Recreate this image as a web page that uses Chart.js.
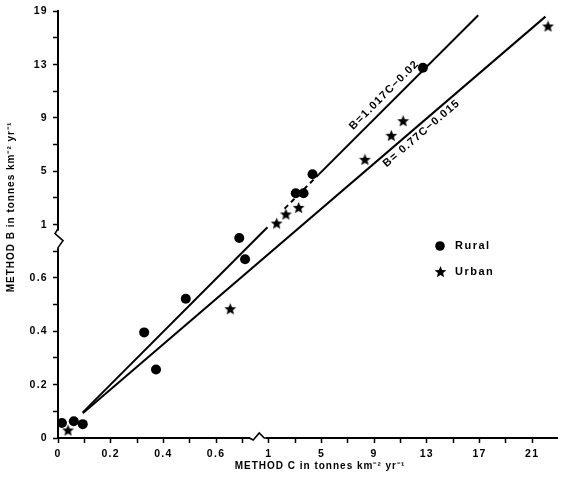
<!DOCTYPE html>
<html>
<head>
<meta charset="utf-8">
<script src="https://cdn.jsdelivr.net/npm/chart.js@4.4.1/dist/chart.umd.min.js"></script>
<style>
  html, body { margin: 0; padding: 0; background: #fff; }
</style>
</head>
<body>
<canvas id="chart" width="562" height="480"></canvas>
<script>
// data (tonnes km-2 yr-1)
const ruralC = [0.015, 0.06, 0.094, 0.327, 0.372, 0.485, 0.688, 0.71, 3.05, 3.64, 4.32, 12.7];
const ruralB = [0.056, 0.063, 0.052, 0.396, 0.257, 0.522, 0.75, 0.67, 3.36, 3.36, 4.78, 12.76];
const urbanC = [0.038, 0.654, 1.6, 2.3, 3.27, 8.3, 10.3, 11.2, 22.2];
const urbanB = [0.03, 0.485, 1.12, 1.8, 2.3, 5.9, 7.7, 8.8, 15.9];

// fitted lines, end points as drawn
const ruralLineLowC = [0.094, 0.795];
const ruralLineLowB = [0.096, 0.79];
const ruralLineHighC = [2.2, 4.8, 16.9];
const ruralLineHighB = [2.2, 4.77, 16.7];
const urbanLineC = [0.094, 22];
const urbanLineB = [0.093, 16.6];

const eqTexts = ['B=1.017C\u22120.02', 'B= 0.77C\u22120.015'];
const eqAnchorC = [10.3, 12.2];

// axis ticks (broken scales)
const xTickValues = [0, 0.2, 0.4, 0.6, 1, 5, 9, 13, 17, 21];
const xTickLabels = ['0', '0.2', '0.4', '0.6', '1', '5', '9', '13', '17', '21'];
const yTickValues = [0, 0.2, 0.4, 0.6, 1, 5, 9, 13, 17];
const yTickLabels = ['0', '0.2', '0.4', '0.6', '1', '5', '9', '13', '19'];

const FONT = "'Liberation Sans', Arial, sans-serif";

// below 1 the axes run 0.2 per unit, above they run 4 per unit
function toU(c) { return c <= 0.8 ? c / 0.2 : 4 + (c - 1) / 4; }
function toV(b) { return b <= 0.8 ? b / 0.2 : 4 + (b - 1) / 4; }

function pts(cs, bs) {
    return cs.map((c, i) => ({ x: toU(c), y: toV(bs[i]) }));
}

function tickList(max) {
    const out = [];
    for (let v = 0; v <= max + 1e-9; v += 0.5) out.push({ value: v });
    return out;
}

function labelFor(value, vals, labels, fn) {
    for (let i = 0; i < vals.length; i++) {
        if (Math.abs(fn(vals[i]) - value) < 1e-6) return labels[i];
    }
    return '';
}

function makeStar(size) {
    const c = document.createElement('canvas');
    c.width = size; c.height = size;
    const g = c.getContext('2d');
    g.fillStyle = '#000';
    g.beginPath();
    for (let i = 0; i < 10; i++) {
        const r = i % 2 ? size * 0.21 : size * 0.48;
        const a = -Math.PI / 2 + i * Math.PI / 5;
        g.lineTo(size / 2 + r * Math.cos(a), size / 2 + 0.7 + r * Math.sin(a));
    }
    g.closePath();
    g.fill();
    return c;
}
const star = makeStar(13);

const decorations = {
    id: 'decorations',
    beforeDraw(chart) {
        chart.ctx.letterSpacing = '1.3px';
    },
    afterDraw(chart) {
        const ctx = chart.ctx;
        const xs = chart.scales.x, ys = chart.scales.y;
        ctx.save();
        ctx.strokeStyle = '#000';
        ctx.fillStyle = '#000';

        // axis breaks
        let bx = xs.getPixelForValue(3.8), by = ys.bottom;
        ctx.fillStyle = '#fff';
        ctx.fillRect(bx - 8, by - 2, 16, 4);
        ctx.fillStyle = '#000';
        ctx.lineWidth = 1.6;
        ctx.beginPath();
        ctx.moveTo(bx - 9, by);
        ctx.lineTo(bx - 5, by + 2);
        ctx.lineTo(bx + 1, by - 5);
        ctx.lineTo(bx + 6, by);
        ctx.lineTo(bx + 9, by);
        ctx.stroke();

        bx = xs.left; by = ys.getPixelForValue(3.7);
        ctx.fillStyle = '#fff';
        ctx.fillRect(bx - 2, by - 10, 4, 18);
        ctx.fillStyle = '#000';
        ctx.beginPath();
        ctx.moveTo(bx, by - 12);
        ctx.lineTo(bx - 3, by - 7);
        ctx.lineTo(bx + 5, by);
        ctx.lineTo(bx, by + 7);
        ctx.lineTo(bx, by + 9);
        ctx.stroke();

        // equation labels along the lines
        const eqLines = [2, 4];
        const eqOffset = [-10, 8];
        ctx.font = 'bold 11px ' + FONT;
        ctx.letterSpacing = '1.2px';
        ctx.textAlign = 'center';
        ctx.textBaseline = 'middle';
        eqTexts.forEach((txt, i) => {
            const d = chart.getDatasetMeta(eqLines[i]).data;
            const p0 = d[0], p1 = d[d.length - 1];
            const ax = xs.getPixelForValue(toU(eqAnchorC[i]));
            const t = (ax - p0.x) / (p1.x - p0.x);
            const ay = p0.y + t * (p1.y - p0.y);
            ctx.save();
            ctx.translate(ax, ay);
            ctx.rotate(Math.atan2(p1.y - p0.y, p1.x - p0.x));
            ctx.fillText(txt, 0, eqOffset[i]);
            ctx.restore();
        });

        // legend
        ctx.textAlign = 'left';
        ctx.letterSpacing = '1.5px';
        ctx.beginPath();
        ctx.arc(440, 246, 4.8, 0, Math.PI * 2);
        ctx.fill();
        ctx.fillText('Rural', 455, 246);
        ctx.drawImage(star, 434, 265);
        ctx.fillText('Urban', 455, 272);

        // axis titles
        ctx.font = 'bold 10px ' + FONT;
        ctx.letterSpacing = '1px';
        ctx.textAlign = 'center';
        ctx.fillText('METHOD C in tonnes km\u207B\u00B2 yr\u207B\u00B9', 320, 466);
        ctx.translate(11, 207);
        ctx.rotate(-Math.PI / 2);
        ctx.fillText('METHOD B in tonnes km\u207B\u00B2 yr\u207B\u00B9', 0, 0);
        ctx.restore();
    }
};

const lineStyle = {
    type: 'line',
    showLine: true,
    borderColor: '#000',
    borderWidth: 2,
    pointRadius: 0,
    fill: false,
    order: 1
};

new Chart(document.getElementById('chart'), {
    type: 'scatter',
    data: {
        datasets: [
            { label: 'Rural', data: pts(ruralC, ruralB), pointStyle: 'circle', pointRadius: 5,
              backgroundColor: '#000', borderColor: '#000', borderWidth: 0, order: 0 },
            { label: 'Urban', data: pts(urbanC, urbanB), pointStyle: star, order: 0 },
            Object.assign({ data: pts(ruralLineHighC, ruralLineHighB),
              segment: { borderDash: c => c.p0DataIndex === 0 ? [5, 4] : undefined } }, lineStyle),
            Object.assign({ data: pts(ruralLineLowC, ruralLineLowB) }, lineStyle),
            Object.assign({ data: pts(urbanLineC, urbanLineB) }, lineStyle)
        ]
    },
    options: {
        responsive: false,
        devicePixelRatio: 1,
        animation: false,
        events: [],
        layout: { padding: { top: 9, right: 0, left: 0, bottom: 0 } },
        plugins: { legend: { display: false }, tooltip: { enabled: false } },
        scales: {
            x: {
                type: 'linear',
                min: 0,
                max: 9.47,
                afterBuildTicks: s => { s.ticks = tickList(9); },
                afterFit: s => { s.height = 42; },
                ticks: {
                    autoSkip: false, maxRotation: 0, padding: 5, color: '#000',
                    font: { family: FONT, size: 10.5, weight: 'bold' },
                    callback: v => labelFor(v, xTickValues, xTickLabels, toU)
                },
                grid: { drawOnChartArea: false, drawTicks: true, tickLength: 5, tickWidth: 1.5, tickColor: '#000' },
                border: { display: true, color: '#000', width: 2 }
            },
            y: {
                type: 'linear',
                min: 0,
                max: 8,
                afterBuildTicks: s => { s.ticks = tickList(8); },
                afterFit: s => { s.width = 58; },
                ticks: {
                    autoSkip: false, padding: 5, color: '#000',
                    font: { family: FONT, size: 10.5, weight: 'bold' },
                    callback: v => labelFor(v, yTickValues, yTickLabels, toV)
                },
                grid: { drawOnChartArea: false, drawTicks: true, tickLength: 5, tickWidth: 1.5, tickColor: '#000' },
                border: { display: true, color: '#000', width: 2 }
            }
        }
    },
    plugins: [decorations]
});
</script>
</body>
</html>
